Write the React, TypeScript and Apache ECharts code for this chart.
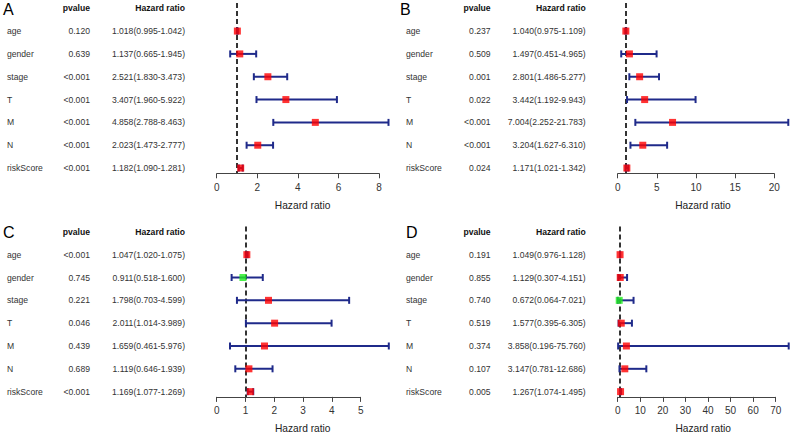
import React, { useEffect, useRef } from "react";
import * as echarts from "echarts";

const variables = ["age", "gender", "stage", "T", "M", "N", "riskScore"];

// Panel A
const pvalA = ["0.120", "0.639", "<0.001", "<0.001", "<0.001", "<0.001", "<0.001"];
const hrA = [1.018, 1.137, 2.521, 3.407, 4.858, 2.023, 1.182];
const lowA = [0.995, 0.665, 1.83, 1.96, 2.788, 1.473, 1.09];
const highA = [1.042, 1.945, 3.473, 5.922, 8.463, 2.777, 1.281];
const ticksA = [0, 2, 4, 6, 8];

// Panel B
const pvalB = ["0.237", "0.509", "0.001", "0.022", "<0.001", "<0.001", "0.024"];
const hrB = [1.04, 1.497, 2.801, 3.442, 7.004, 3.204, 1.171];
const lowB = [0.975, 0.451, 1.486, 1.192, 2.252, 1.627, 1.021];
const highB = [1.109, 4.965, 5.277, 9.943, 21.783, 6.31, 1.342];
const ticksB = [0, 5, 10, 15, 20];

// Panel C
const pvalC = ["<0.001", "0.745", "0.221", "0.046", "0.439", "0.689", "<0.001"];
const hrC = [1.047, 0.911, 1.798, 2.011, 1.659, 1.119, 1.169];
const lowC = [1.02, 0.518, 0.703, 1.014, 0.461, 0.646, 1.077];
const highC = [1.075, 1.6, 4.599, 3.989, 5.976, 1.939, 1.269];
const ticksC = [0, 1, 2, 3, 4, 5];

// Panel D
const pvalD = ["0.191", "0.855", "0.740", "0.519", "0.374", "0.107", "0.005"];
const hrD = [1.049, 1.129, 0.672, 1.577, 3.858, 3.147, 1.267];
const lowD = [0.976, 0.307, 0.064, 0.395, 0.196, 0.781, 1.074];
const highD = [1.128, 4.151, 7.021, 6.305, 75.76, 12.686, 1.495];
const ticksD = [0, 10, 20, 30, 40, 50, 60, 70];

const panelLetters = ["A", "B", "C", "D"];

const FONT = "'Liberation Sans', Arial, Helvetica, sans-serif";
const Y_MIN = -1.23;
const Y_MAX = 6.23;
const BAR_COLOR = "#1f2a8a";

export default function App() {
  const ref = useRef<HTMLDivElement>(null);

  useEffect(() => {
    if (!ref.current) return;
    const chart = echarts.init(ref.current, null, { renderer: "svg" });

    const panels = [
      { letter: panelLetters[0], pval: pvalA, hr: hrA, low: lowA, high: highA, ticks: ticksA,
        tLeft: 7, tWidth: 178, pFrac: 0.466, pLeft: 216.7, pWidth: 171.8, top: 3, letterDx: -4 },
      { letter: panelLetters[1], pval: pvalB, hr: hrB, low: lowB, high: highB, ticks: ticksB,
        tLeft: 406, tWidth: 179.7, pFrac: 0.471, pLeft: 617.7, pWidth: 170.6, top: 3, letterDx: -6 },
      { letter: panelLetters[2], pval: pvalC, hr: hrC, low: lowC, high: highC, ticks: ticksC,
        tLeft: 7, tWidth: 178, pFrac: 0.466, pLeft: 216.7, pWidth: 172.1, top: 226.6, letterDx: -4 },
      { letter: panelLetters[3], pval: pvalD, hr: hrD, low: lowD, high: highD, ticks: ticksD,
        tLeft: 406, tWidth: 179.7, pFrac: 0.471, pLeft: 617.7, pWidth: 171, top: 226.6, letterDx: 0 },
    ];
    const gridHeight = 170.3;

    const grid: any[] = [];
    const xAxis: any[] = [];
    const yAxis: any[] = [];
    const series: any[] = [];

    panels.forEach((p, k) => {
      const gT = 2 * k;
      const gP = 2 * k + 1;
      const xmax = Math.max(...p.high);
      const tickMax = p.ticks[p.ticks.length - 1];
      grid.push({ left: p.tLeft, top: p.top, width: p.tWidth, height: gridHeight });
      grid.push({ left: p.pLeft, top: p.top, width: p.pWidth, height: gridHeight });

      xAxis.push({ type: "value", gridIndex: gT, min: 0, max: 1, show: false });
      yAxis.push({ type: "value", gridIndex: gT, min: Y_MIN, max: Y_MAX, inverse: true, show: false });

      xAxis.push({
        type: "value",
        gridIndex: gP,
        position: "bottom",
        min: 0,
        max: xmax,
        axisLine: { show: false, onZero: false },
        splitLine: { show: false },
        axisTick: { show: true, customValues: p.ticks, length: 5, lineStyle: { color: "#444", width: 1 } },
        axisLabel: { customValues: p.ticks, margin: 9, fontSize: 10, color: "#333", fontFamily: FONT },
        name: "Hazard ratio",
        nameLocation: "middle",
        nameGap: 27,
        nameTextStyle: { fontSize: 10.2, color: "#222", fontFamily: FONT },
      });
      yAxis.push({ type: "value", gridIndex: gP, min: Y_MIN, max: Y_MAX, inverse: true, show: false });

      const hrText = p.hr.map(
        (h, i) => `${h.toFixed(3)}(${p.low[i].toFixed(3)}-${p.high[i].toFixed(3)})`
      );

      // Table (header + rows)
      const tableData = [[0, -1]].concat(variables.map((_, i) => [0, i]));
      series.push({
        type: "custom",
        xAxisIndex: gT,
        yAxisIndex: gT,
        silent: true,
        data: tableData,
        encode: { x: 0, y: 1 },
        renderItem: (params: any, api: any) => {
          const idx = params.dataIndex;
          const yv = api.value(1);
          const p0 = api.coord([0, yv]);
          const p1 = api.coord([p.pFrac, yv]);
          const p2 = api.coord([1, yv]);
          const mk = (x: number, y: number, text: string, align: string, extra: any = {}) => ({
            type: "text",
            x,
            y,
            style: {
              text,
              align,
              verticalAlign: "middle",
              fontSize: 8.6,
              fontFamily: FONT,
              fill: "#333",
              ...extra,
            },
          });
          if (idx === 0) {
            return {
              type: "group",
              children: [
                mk(p0[0] + p.letterDx, p0[1] + 1, p.letter, "left", { fontSize: 16, fill: "#000" }),
                mk(p1[0], p1[1], "pvalue", "right", { fontWeight: "bold", fill: "#111" }),
                mk(p2[0], p2[1], "Hazard ratio", "right", { fontWeight: "bold", fill: "#111" }),
              ],
            };
          }
          const r = idx - 1;
          return {
            type: "group",
            children: [
              mk(p0[0], p0[1], variables[r], "left"),
              mk(p1[0], p1[1], p.pval[r], "right"),
              mk(p2[0], p2[1], hrText[r], "right"),
            ],
          };
        },
      });

      // Error bars
      series.push({
        type: "custom",
        xAxisIndex: gP,
        yAxisIndex: gP,
        silent: true,
        z: 3,
        data: p.low.map((l, i) => [l, p.high[i], i]),
        encode: { x: [0, 1], y: 2 },
        renderItem: (params: any, api: any) => {
          const lo = api.coord([api.value(0), api.value(2)]);
          const hi = api.coord([api.value(1), api.value(2)]);
          const c = 3.5;
          const st = { stroke: BAR_COLOR, lineWidth: 2 };
          return {
            type: "group",
            children: [
              { type: "line", shape: { x1: lo[0], y1: lo[1], x2: hi[0], y2: hi[1] }, style: st },
              { type: "line", shape: { x1: lo[0], y1: lo[1] - c, x2: lo[0], y2: lo[1] + c }, style: st },
              { type: "line", shape: { x1: hi[0], y1: hi[1] - c, x2: hi[0], y2: hi[1] + c }, style: st },
            ],
          };
        },
      });

      // Point estimates, dashed reference line and axis baseline
      series.push({
        type: "scatter",
        xAxisIndex: gP,
        yAxisIndex: gP,
        silent: true,
        z: 4,
        symbol: "rect",
        symbolSize: 7,
        data: p.hr.map((h, i) => ({
          value: [h, i],
          itemStyle: { color: h < 1 ? "#22ee22" : "#ff0000" },
        })),
        markLine: {
          silent: true,
          z: 1,
          symbol: "none",
          label: { show: false },
          emphasis: { disabled: true },
          data: [
            { xAxis: 1, lineStyle: { type: [5, 3], color: "#333", width: 2 } },
            [
              { coord: [0, Y_MAX], lineStyle: { type: "solid", color: "#444", width: 1 } },
              { coord: [tickMax, Y_MAX] },
            ],
          ],
        },
      });
    });

    chart.setOption({
      animation: false,
      backgroundColor: "#fff",
      textStyle: { fontFamily: FONT },
      grid,
      xAxis,
      yAxis,
      series,
    });

    return () => chart.dispose();
  }, []);

  return (
    <div
      ref={ref}
      style={{ position: "fixed", left: 0, top: 0, width: 792, height: 438, background: "#fff" }}
    />
  );
}
